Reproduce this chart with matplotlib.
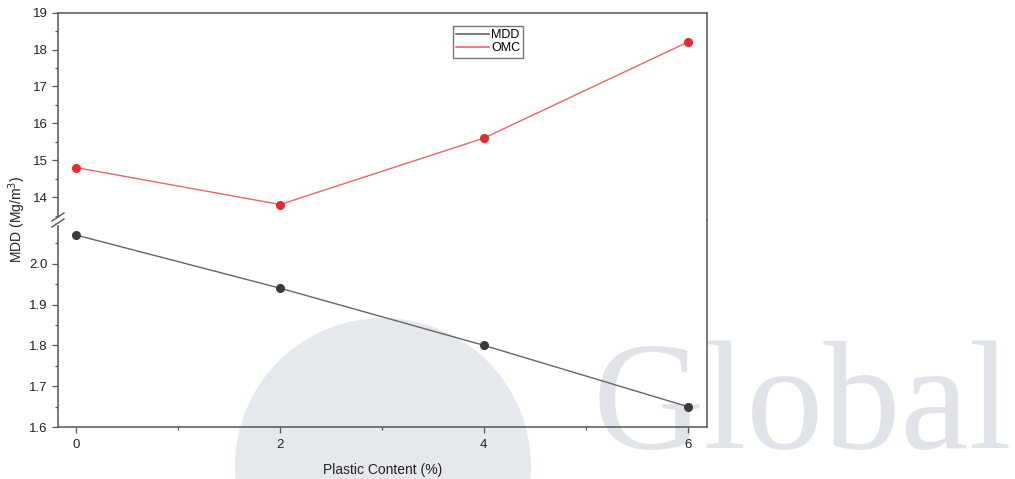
import matplotlib
matplotlib.use("Agg")
import matplotlib.pyplot as plt
from matplotlib.patches import Ellipse
from matplotlib.lines import Line2D
from matplotlib.ticker import MultipleLocator

plt.rcParams['font.family'] = ['Liberation Sans', 'DejaVu Sans']

# Data
plastic_content = [0, 2, 4, 6]
mdd = [2.07, 1.94, 1.80, 1.65]
omc = [14.8, 13.8, 15.6, 18.2]

x_ticks = [0, 2, 4, 6]
upper_ticks = [14, 15, 16, 17, 18, 19]
lower_ticks = [1.6, 1.7, 1.8, 1.9, 2.0]

W, H = 1015, 479
fig = plt.figure(figsize=(W / 100, H / 100), dpi=100)

left, right = 58 / W, 707 / W
y_top, y_mid, y_bot = 1 - 12.7 / H, 1 - 220 / H, 1 - 427 / H

ax_top = fig.add_axes([left, y_mid, right - left, y_top - y_mid])
ax_bot = fig.add_axes([left, y_bot, right - left, y_mid - y_bot], sharex=ax_top)
for ax in (ax_top, ax_bot):
    ax.set_facecolor('none')

spine_c = '#555555'
text_c = '#222222'

mdd_line = '#666666'
mdd_mark = '#3a3a3a'
omc_line = '#e8656a'
omc_mark = '#e62a30'

ax_bot.plot(plastic_content, mdd, color=mdd_line, lw=1.0, zorder=3)
ax_bot.plot(plastic_content, mdd, 'o', color=mdd_mark, ms=5.5, zorder=4)
ax_top.plot(plastic_content, omc, color=omc_line, lw=1.0, zorder=3)
ax_top.plot(plastic_content, omc, 'o', color=omc_mark, ms=5.5, zorder=4)

ax_top.set_ylim(13.38, 19)
ax_bot.set_ylim(1.6, 2.107)
ax_bot.set_xlim(-0.18, 6.19)

for ax in (ax_top, ax_bot):
    for s in ax.spines.values():
        s.set_color(spine_c)
        s.set_linewidth(1.1)
    ax.tick_params(axis='both', which='both', direction='out', colors=spine_c,
                   labelcolor=text_c, labelsize=9.5, width=0.9)
    ax.tick_params(which='major', length=4)
    ax.tick_params(which='minor', length=2.5)

ax_top.spines['bottom'].set_visible(False)
ax_bot.spines['top'].set_visible(False)

ax_top.set_yticks(upper_ticks)
ax_top.yaxis.set_minor_locator(MultipleLocator(0.5))
ax_top.tick_params(axis='x', which='both', bottom=False, labelbottom=False)

ax_bot.set_yticks(lower_ticks)
ax_bot.set_yticklabels([f'{v:.1f}' for v in lower_ticks])
ax_bot.yaxis.set_minor_locator(MultipleLocator(0.05))
ax_bot.set_xticks(x_ticks)
ax_bot.xaxis.set_minor_locator(MultipleLocator(1))
ax_bot.tick_params(axis='x', which='major', pad=5)

ax_bot.set_xlabel('Plastic Content (%)', fontsize=10, color=text_c, labelpad=8)
fig.text(17 / W, (y_top + y_bot) / 2, 'MDD (Mg/m$^3$)', rotation=90,
         ha='center', va='center', fontsize=10, color=text_c)

# Axis break on the left spine
bx = left
by = y_mid
fig.add_artist(plt.Rectangle((bx - 2 / W, by - 3.5 / H), 4 / W, 7 / H,
                             transform=fig.transFigure, color='white',
                             zorder=5))
for dy in (-3.0, 3.0):
    fig.add_artist(Line2D([bx - 6 / W, bx + 6 / W],
                          [by + (dy - 4) / H, by + (dy + 4) / H],
                          transform=fig.transFigure, color=spine_c, lw=1.0,
                          zorder=6))

# Legend
handles = [Line2D([], [], color=mdd_line, lw=1.2),
           Line2D([], [], color=omc_line, lw=1.2)]
leg = fig.legend(handles, ['MDD', 'OMC'], loc='upper left',
                 bbox_to_anchor=(453 / W, 1 - 26 / H), fontsize=9,
                 frameon=True, fancybox=False, edgecolor=spine_c,
                 handlelength=2.6, handletextpad=0.2, borderpad=0.25,
                 labelspacing=0.1, borderaxespad=0)
leg.get_frame().set_linewidth(1.0)

# Publisher watermark, kept behind the plot content
fig.add_artist(Ellipse((383 / W, 1 - 466 / H), 296 / W, 296 / H,
                       transform=fig.transFigure, color='#c3cbd8', alpha=0.42,
                       lw=0, zorder=-2))
fig.text(593 / W, 1 - 448 / H, 'Global', fontsize=111,
         family='Liberation Serif', color='#bcc5cf', alpha=0.45,
         ha='left', va='baseline', zorder=-2)

fig.savefig('out.png', dpi=100, facecolor='white')
